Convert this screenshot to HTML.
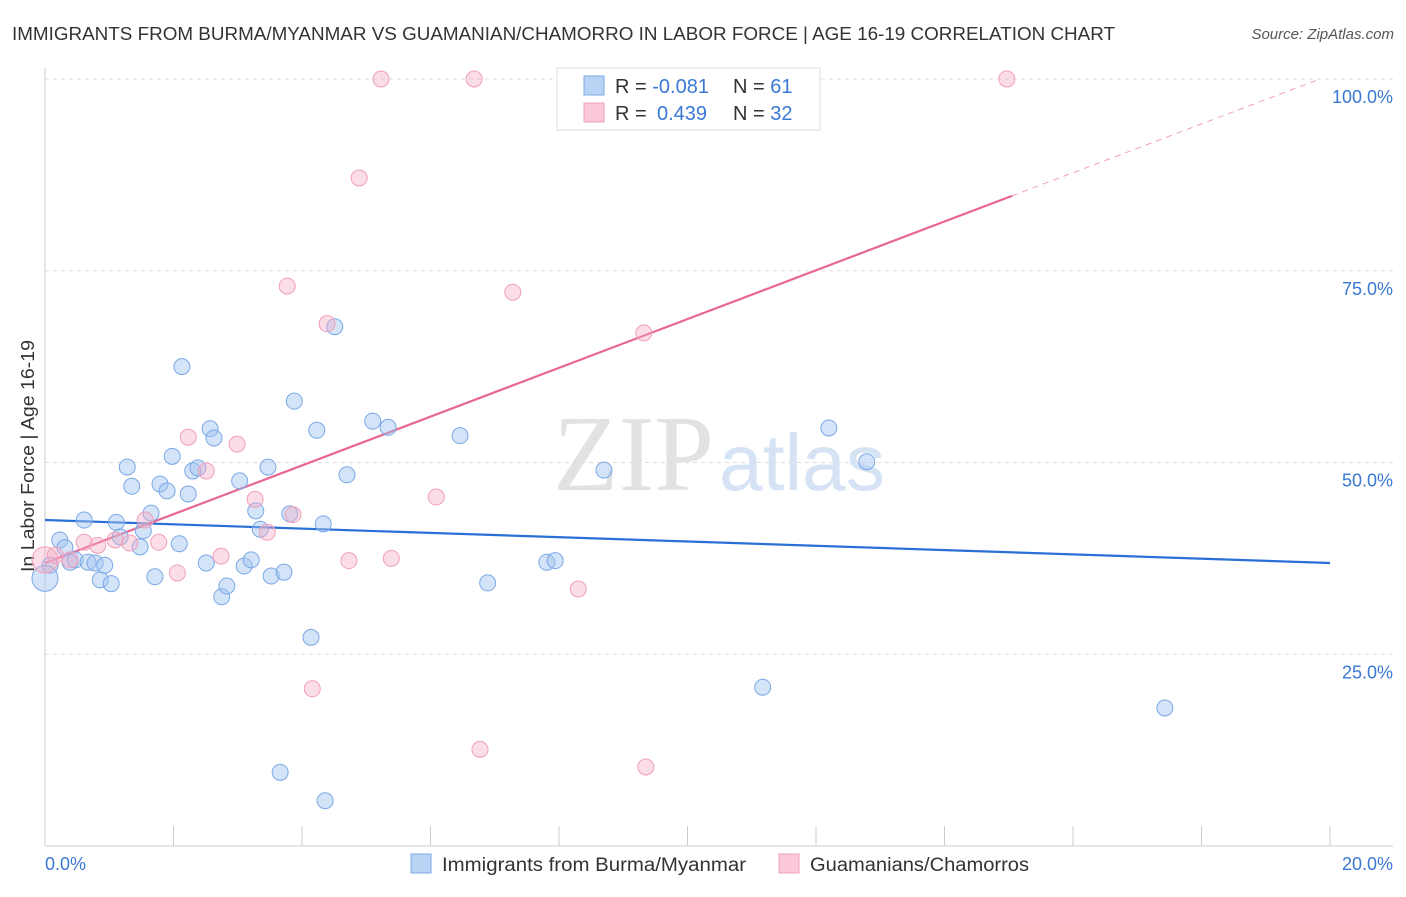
<!DOCTYPE html>
<html><head><meta charset="utf-8"><style>
body{margin:0;background:#fff;font-family:"Liberation Sans",sans-serif;}
svg text{font-family:"Liberation Sans",sans-serif;}
</style></head><body>
<svg id="chart" width="1406" height="892" xmlns="http://www.w3.org/2000/svg">
<text x="12" y="40" font-size="18.5" fill="#333" textLength="1103" lengthAdjust="spacingAndGlyphs">IMMIGRANTS FROM BURMA/MYANMAR VS GUAMANIAN/CHAMORRO IN LABOR FORCE | AGE 16-19 CORRELATION CHART</text>
<text x="1394" y="39" font-size="15" fill="#555" font-style="italic" text-anchor="end">Source: ZipAtlas.com</text>
<text x="553" y="490" font-size="108" fill="#e2e2e2" style="font-family:'Liberation Serif',serif" textLength="161" lengthAdjust="spacingAndGlyphs">ZIP</text>
<text x="719" y="490" font-size="80" fill="#d5e3f5" textLength="166" lengthAdjust="spacingAndGlyphs">atlas</text>
<text transform="translate(34,456) rotate(-90)" font-size="18.5" fill="#333" text-anchor="middle" textLength="232" lengthAdjust="spacingAndGlyphs">In Labor Force | Age 16-19</text>
<g id="grid"></g><g id="lines"></g><g id="dots"></g>
<g>
<rect x="557" y="68" width="263" height="62" fill="#fff" stroke="#ddd"/>
<rect x="584" y="76" width="20" height="19" fill="#b9d3f5" stroke="#7aa8e6"/>
<rect x="584" y="103" width="20" height="19" fill="#fcc9d9" stroke="#f0a0bb"/>
<text x="615" y="93" font-size="20" fill="#333">R = <tspan fill="#3a78d4">-0.081</tspan></text>
<text x="733" y="93" font-size="20" fill="#333">N = <tspan fill="#3a78d4"> 61</tspan></text>
<text x="615" y="120" font-size="20" fill="#333">R = <tspan x="657" fill="#3a78d4">0.439</tspan></text>
<text x="733" y="120" font-size="20" fill="#333">N = <tspan fill="#3a78d4">32</tspan></text>
</g>
<g>
<rect x="411" y="854" width="20" height="19" fill="#b9d3f5" stroke="#7aa8e6"/>
<text x="442" y="871" font-size="19" fill="#333" textLength="304" lengthAdjust="spacingAndGlyphs">Immigrants from Burma/Myanmar</text>
<rect x="779" y="854" width="20" height="19" fill="#fcc9d9" stroke="#f0a0bb"/>
<text x="810" y="871" font-size="19" fill="#333" textLength="219" lengthAdjust="spacingAndGlyphs">Guamanians/Chamorros</text>
</g>
</svg>
<script>
const blueX=[0.08,0.23,0.31,0.39,0.47,0.61,0.67,0.78,0.86,0.93,1.03,1.11,1.17,1.28,1.35,1.48,1.53,1.65,1.71,1.79,1.90,1.98,2.09,2.13,2.23,2.30,2.38,2.51,2.57,2.63,2.75,2.83,3.03,3.10,3.21,3.28,3.35,3.47,3.52,3.72,3.81,3.88,4.14,4.23,4.33,4.36,4.51,4.70,5.10,5.34,6.46,6.89,7.81,7.94,8.70,11.17,12.20,12.79,17.43,3.66,0.0];
const blueY=[36.6,39.9,38.9,37.0,37.3,42.5,37.0,36.9,34.7,36.6,34.2,42.2,40.3,49.4,46.9,39.0,41.1,43.4,35.1,47.2,46.3,50.8,39.4,62.5,45.9,48.9,49.3,36.9,54.4,53.2,32.5,33.9,47.6,36.5,37.3,43.7,41.3,49.4,35.2,35.7,43.3,58.0,27.2,54.2,42.0,5.9,67.7,48.4,55.4,54.6,53.5,34.3,37.0,37.2,49.0,20.7,54.5,50.1,18.0,9.6,34.9];
const pinkX=[0,0.16,0.39,0.61,0.82,1.09,1.32,1.56,1.77,2.06,2.23,2.51,2.74,2.99,3.27,3.46,3.77,3.86,4.16,4.39,4.73,4.89,5.23,5.39,6.09,6.68,6.77,7.28,8.30,9.32,9.35,14.97];
const pinkY=[37.3,37.9,37.3,39.6,39.2,39.9,39.5,42.5,39.6,35.6,53.3,48.9,37.8,52.4,45.2,40.9,73.0,43.2,20.5,68.1,37.2,87.1,100,37.5,45.5,100,12.6,72.2,33.5,66.9,10.3,100];
const blueLine=[42.5,-0.28];
const pinkLine=[36.9,3.18];
const yTicks=[25,50,75,100];
const yTickLabels=["25.0%","50.0%","75.0%","100.0%"];
const xTicks=[0,2,4,6,8,10,12,14,16,18,20];
const NS="http://www.w3.org/2000/svg";
const sx=v=>45+v/20*1285, sy=v=>846-v*7.67;
function mk(p,t,a){const e=document.createElementNS(NS,t);for(const k in a)e.setAttribute(k,a[k]);document.getElementById(p).appendChild(e);return e;}
yTicks.forEach((t,i)=>{
 const l=mk('grid','line',{x1:45,x2:1393,y1:sy(t),y2:sy(t),stroke:'#ddd','stroke-dasharray':'4,4'});
 
 
 const tx=mk('grid','text',{x:1393,y:sy(t)+24,'font-size':18,fill:'#3a78d4','text-anchor':'end'});
 tx.textContent=yTickLabels[i];
 
 
});
let ax=mk('grid','line',{x1:45,x2:45,y1:68,y2:846,stroke:'#ccc'});


ax=mk('grid','line',{x1:45,x2:1393,y1:846,y2:846,stroke:'#ccc'});


xTicks.forEach(t=>{
 const l=mk('grid','line',{x1:sx(t),x2:sx(t),y1:826,y2:846,stroke:'#ccc'});
 
 
});
let xl=mk('grid','text',{x:45,y:870,'font-size':18,fill:'#3a78d4'});xl.textContent=xTicks[0].toFixed(1)+'%';


xl=mk('grid','text',{x:1393,y:870,'font-size':18,fill:'#3a78d4','text-anchor':'end'});xl.textContent=xTicks[xTicks.length-1].toFixed(1)+'%';


function dot(x,y,fill,stroke,r,name){const c=mk('dots','circle',{cx:sx(x),cy:sy(y),r:r,fill:fill,stroke:stroke,'stroke-width':1});
 
 }
blueX.forEach((x,i)=>dot(x,blueY[i],'rgba(160,196,240,0.45)','#7aa8e6',x===0?13:8,'burma-point'));
pinkX.forEach((x,i)=>dot(x,pinkY[i],'rgba(245,170,195,0.4)','#f0a0bb',x===0?13:8,'guamanian-point'));
let bl=mk('lines','line',{x1:sx(0),y1:sy(blueLine[0]),x2:sx(20),y2:sy(blueLine[0]+blueLine[1]*20),stroke:'#2a6fd6','stroke-width':2.2});


const xe=15.05;
let pl=mk('lines','line',{x1:sx(0),y1:sy(pinkLine[0]),x2:sx(xe),y2:sy(pinkLine[0]+pinkLine[1]*xe),stroke:'#e8668f','stroke-width':2.2});


const xd=(100-pinkLine[0])/pinkLine[1];
pl=mk('lines','line',{x1:sx(xe),y1:sy(pinkLine[0]+pinkLine[1]*xe),x2:sx(xd),y2:sy(100),stroke:'#f0a0bb','stroke-width':1,'stroke-dasharray':'6,5'});


</script>
</body></html>
